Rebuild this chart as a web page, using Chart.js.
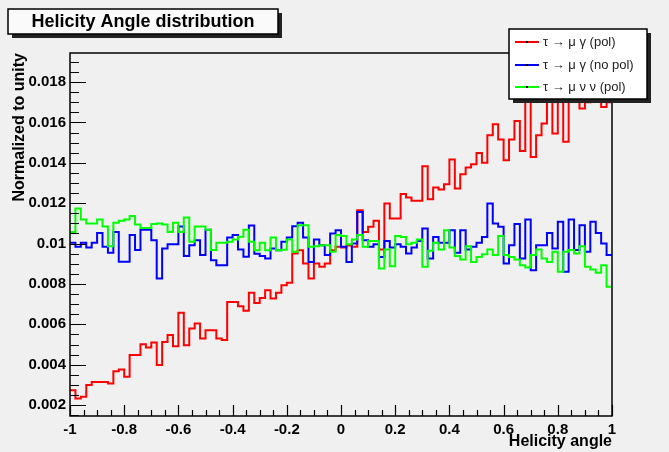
<!DOCTYPE html>
<html lang="en">
<head>
    <meta charset="UTF-8">
    <title>Helicity Angle distribution</title>
    <script src="https://cdn.jsdelivr.net/npm/chart.js@4.4.1/dist/chart.umd.min.js"></script>
    <style>
        * {
            margin: 0;
            padding: 0;
        }
        body {
            background: #f0f0f0;
        }
    </style>
</head>
<body>
<canvas id="myChart" width="669" height="452"></canvas>
<script>
    // histogram: 100 bins from -1 to 1
    var nBins = 100;
    var xLow = -1;
    var xHigh = 1;

    // tau -> mu gamma (pol)
    var redPol = [
        0.00274, 0.00233, 0.00241, 0.00299, 0.00315, 0.00315, 0.00315, 0.00307, 0.00368, 0.00376,
        0.00340, 0.00448, 0.00448, 0.00502, 0.00485, 0.00510, 0.00398, 0.00513, 0.00547, 0.00492,
        0.00657, 0.00497, 0.00580, 0.00604, 0.00530, 0.00571, 0.00571, 0.00530, 0.00522, 0.00711,
        0.00711, 0.00690, 0.00667, 0.00756, 0.00706, 0.00730, 0.00769, 0.00728, 0.00756, 0.00794,
        0.00806, 0.00951, 0.00967, 0.00901, 0.00827, 0.00901, 0.00885, 0.00901, 0.00967, 0.00984,
        0.00980, 0.00990, 0.00984, 0.01165, 0.01058, 0.01083, 0.01113, 0.00971, 0.01198, 0.01124,
        0.01124, 0.01245, 0.01228, 0.01212, 0.01212, 0.01383, 0.01220, 0.01278, 0.01268, 0.01294,
        0.01416, 0.01273, 0.01344, 0.01377, 0.01393, 0.01449, 0.01400, 0.01537, 0.01591, 0.01515,
        0.01413, 0.01515, 0.01607, 0.01459, 0.01780, 0.01429, 0.01537, 0.01595, 0.01750, 0.01545,
        0.01730, 0.01504, 0.01740, 0.01720, 0.01669, 0.01700, 0.01730, 0.01740, 0.01677, 0.01700
    ];
    // tau -> mu gamma (no pol)
    var blueNoPol = [
        0.01004, 0.00984, 0.01004, 0.00980, 0.01004, 0.01053, 0.00984, 0.00954, 0.01057, 0.00910,
        0.00910, 0.01042, 0.00968, 0.01068, 0.01068, 0.01017, 0.00827, 0.00976, 0.00997, 0.00997,
        0.01085, 0.00938, 0.00992, 0.01017, 0.00943, 0.01068, 0.00918, 0.00893, 0.00893, 0.01030,
        0.01042, 0.00971, 0.00935, 0.01089, 0.00950, 0.00938, 0.00926, 0.00976, 0.00967, 0.01009,
        0.01030, 0.01086, 0.01103, 0.01030, 0.00909, 0.01020, 0.00992, 0.00943, 0.01050, 0.01066,
        0.00984, 0.00909, 0.01000, 0.01157, 0.01017, 0.00984, 0.00997, 0.00934, 0.01013, 0.00981,
        0.00997, 0.00984, 0.00951, 0.00981, 0.01013, 0.01075, 0.00926, 0.01033, 0.01004, 0.01004,
        0.01066, 0.00954, 0.01066, 0.00971, 0.00984, 0.01004, 0.01033, 0.01198, 0.01100, 0.01084,
        0.00901, 0.00992, 0.01097, 0.00926, 0.01119, 0.00868, 0.00992, 0.00992, 0.01053, 0.00976,
        0.01108, 0.00860, 0.01119, 0.00968, 0.01091, 0.00959, 0.01108, 0.01053, 0.01000, 0.00943
    ];
    // tau -> mu nu nu (pol)
    var greenNuNu = [
        0.01058, 0.01174, 0.01119, 0.01100, 0.01100, 0.01119, 0.01085, 0.00987, 0.01103, 0.01113,
        0.01119, 0.01137, 0.01094, 0.01077, 0.01077, 0.01097, 0.01100, 0.01094, 0.01058, 0.01103,
        0.01058, 0.01129, 0.01009, 0.01085, 0.01085, 0.01068, 0.00968, 0.01004, 0.01004, 0.01009,
        0.01020, 0.01034, 0.01068, 0.01009, 0.00967, 0.01004, 0.00967, 0.01030, 0.00967, 0.00970,
        0.01020, 0.00959, 0.01091, 0.01091, 0.00984, 0.00987, 0.00992, 0.00992, 0.00959, 0.01042,
        0.01037, 0.00997, 0.01020, 0.01042, 0.00984, 0.01013, 0.01013, 0.00877, 0.00971, 0.00888,
        0.01037, 0.01033, 0.00997, 0.01004, 0.01020, 0.00885, 0.00964, 0.01004, 0.00971, 0.01066,
        0.00980, 0.00938, 0.00921, 0.00987, 0.00909, 0.00934, 0.00947, 0.00971, 0.00943, 0.01037,
        0.00943, 0.00934, 0.00921, 0.00893, 0.00882, 0.00943, 0.00971, 0.00926, 0.00909, 0.00959,
        0.00860, 0.00959, 0.00968, 0.00951, 0.00987, 0.00885, 0.00872, 0.00855, 0.00893, 0.00786
    ];

    var xTickValues = [-1, -0.8, -0.6, -0.4, -0.2, 0, 0.2, 0.4, 0.6, 0.8, 1];
    var xTickLabels = ['-1', '-0.8', '-0.6', '-0.4', '-0.2', '0', '0.2', '0.4', '0.6', '0.8', '1'];
    var yTickValues = [0.002, 0.004, 0.006, 0.008, 0.010, 0.012, 0.014, 0.016, 0.018];
    var yTickLabels = ['0.002', '0.004', '0.006', '0.008', '0.01', '0.012', '0.014', '0.016', '0.018'];

    var legendLabels = ['\u03c4 \u2192 \u03bc \u03b3 (pol)', '\u03c4 \u2192 \u03bc \u03b3 (no pol)', '\u03c4 \u2192 \u03bc \u03bd \u03bd (pol)'];
    var legendColors = ['#ff0000', '#0000ff', '#00ff00'];

    // points at lower bin edges + closing point at the upper edge
    function histPoints(values) {
        var pts = [];
        var w = (xHigh - xLow) / nBins;
        for (var i = 0; i < values.length; i++) {
            pts.push({x: xLow + i * w, y: values[i]});
        }
        pts.push({x: xHigh, y: values[values.length - 1]});
        return pts;
    }

    var font = "'Liberation Sans', Arial, Helvetica, sans-serif";

    // ROOT style frame, inner ticks, legend and title box
    var rootDecor = {
        id: 'rootDecor',
        beforeDraw: function (chart) {
            var c = chart.ctx;
            c.save();
            c.fillStyle = '#f0f0f0';
            c.fillRect(0, 0, chart.width, chart.height);
            c.restore();
        },
        afterDatasetsDraw: function (chart) {
            var c = chart.ctx;
            var a = chart.chartArea;
            var xs = chart.scales.x, ys = chart.scales.y;
            c.save();
            c.strokeStyle = '#000';
            c.lineWidth = 1.5;
            c.strokeRect(a.left, a.top, a.right - a.left, a.bottom - a.top);

            c.lineWidth = 1.2;
            c.beginPath();
            var v, p;
            for (v = 0.0015; v < ys.max; v += 0.0005) {
                p = Math.round(ys.getPixelForValue(v)) + 0.5;
                var major = Math.abs(Math.round(v / 0.002) * 0.002 - v) < 1e-7;
                c.moveTo(a.left, p);
                c.lineTo(a.left + (major ? 16 : 9), p);
            }
            for (var k = 0; k <= 40; k++) {
                v = xLow + k * 0.05;
                p = Math.round(xs.getPixelForValue(v)) + 0.5;
                c.moveTo(p, a.bottom);
                c.lineTo(p, a.bottom - (k % 4 === 0 ? 11 : 6));
            }
            c.stroke();

            // legend
            var lx = 509, ly = 29, lw = 138, lh = 70;
            c.fillStyle = '#222';
            c.fillRect(lx + 4, ly + 4, lw, lh);
            c.fillStyle = '#ffffff';
            c.fillRect(lx, ly, lw, lh);
            c.lineWidth = 1.5;
            c.strokeStyle = '#000';
            c.strokeRect(lx, ly, lw, lh);
            var rows = [42, 65, 87];
            c.font = '13px ' + font;
            c.textBaseline = 'middle';
            for (var r = 0; r < legendLabels.length; r++) {
                c.strokeStyle = legendColors[r];
                c.lineWidth = 2;
                c.beginPath();
                c.moveTo(515, rows[r]);
                c.lineTo(539, rows[r]);
                c.stroke();
                c.fillStyle = '#000';
                c.fillRect(526, rows[r] - 1, 2, 2);
                c.fillStyle = '#222';
                c.fillText(legendLabels[r], 543, rows[r]);
            }

            // title box
            var tx = 8, ty = 9, tw = 270, th = 25;
            c.fillStyle = '#222';
            c.fillRect(tx + 4, ty + 4, tw, th);
            c.fillStyle = '#fafafa';
            c.fillRect(tx, ty, tw, th);
            c.strokeStyle = '#000';
            c.lineWidth = 1.5;
            c.strokeRect(tx, ty, tw, th);
            c.fillStyle = '#000';
            c.font = 'bold 18px ' + font;
            c.textAlign = 'center';
            c.fillText('Helicity Angle distribution', tx + tw / 2, ty + th / 2 + 1);
            c.restore();
        }
    };

    var ctx = document.getElementById('myChart').getContext('2d');
    var myChart = new Chart(ctx, {
        type: 'line',
        data: {
            datasets: [{
                label: legendLabels[2],
                data: histPoints(greenNuNu),
                borderColor: '#00ff00',
                borderWidth: 2,
                stepped: 'before',
                pointRadius: 0,
                fill: false
            }, {
                label: legendLabels[1],
                data: histPoints(blueNoPol),
                borderColor: '#0000ff',
                borderWidth: 2,
                stepped: 'before',
                pointRadius: 0,
                fill: false
            }, {
                label: legendLabels[0],
                data: histPoints(redPol),
                borderColor: '#ff0000',
                borderWidth: 2,
                stepped: 'before',
                pointRadius: 0,
                fill: false
            }]
        },
        options: {
            responsive: false,
            animation: false,
            devicePixelRatio: 1,
            layout: {padding: {left: 0, right: 57, top: 53, bottom: 0}},
            plugins: {
                legend: {display: false},
                title: {display: false},
                tooltip: {enabled: false}
            },
            scales: {
                x: {
                    type: 'linear',
                    min: xLow,
                    max: xHigh,
                    grid: {display: false, drawTicks: false},
                    border: {display: false},
                    afterBuildTicks: function (scale) {
                        scale.ticks = xTickValues.map(function (v) { return {value: v}; });
                    },
                    afterFit: function (scale) { scale.height = 36; },
                    ticks: {
                        autoSkip: false,
                        maxRotation: 0,
                        padding: 5,
                        color: '#000',
                        font: {family: font, size: 15, weight: 'bold'},
                        callback: function (v) { return xTickLabels[xTickValues.indexOf(v)]; }
                    },
                    title: {
                        display: true,
                        text: 'Helicity angle',
                        align: 'end',
                        color: '#000',
                        padding: {top: 0, bottom: 1},
                        font: {family: font, size: 16, weight: 'bold'}
                    }
                },
                y: {
                    type: 'linear',
                    min: 0.00146,
                    max: 0.01944,
                    grid: {display: false, drawTicks: false},
                    border: {display: false},
                    afterBuildTicks: function (scale) {
                        scale.ticks = yTickValues.map(function (v) { return {value: v}; });
                    },
                    afterFit: function (scale) { scale.width = 70; },
                    ticks: {
                        autoSkip: false,
                        padding: 4,
                        color: '#000',
                        font: {family: font, size: 15, weight: 'bold'},
                        callback: function (v) { return yTickLabels[yTickValues.indexOf(v)]; }
                    },
                    title: {
                        display: true,
                        text: 'Normalized to unity',
                        align: 'end',
                        color: '#000',
                        padding: {top: 10, bottom: 0},
                        font: {family: font, size: 16, weight: 'bold'}
                    }
                }
            }
        },
        plugins: [rootDecor]
    });
</script>
</body>
</html>
